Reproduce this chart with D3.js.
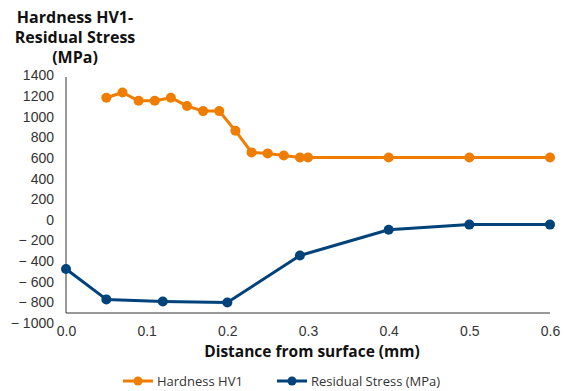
<!DOCTYPE html>
<html>
<head>
<meta charset="utf-8">
<script src="https://cdn.jsdelivr.net/npm/d3@7"></script>
<style>
  html, body { margin: 0; padding: 0; background: #fff; }
  svg { display: block; font-family: "Open Sans", "Noto Sans", sans-serif; }
</style>
</head>
<body>
<svg id="chart" width="564" height="391"></svg>
<script>
// Hardness profile (HV1) vs depth
const hardnessDepth = [0.05, 0.07, 0.09, 0.11, 0.13, 0.15, 0.17, 0.19, 0.21, 0.23, 0.25, 0.27, 0.29, 0.30, 0.40, 0.50, 0.60];
const hardnessValues = [1180, 1230, 1150, 1150, 1180, 1100, 1050, 1050, 860, 650, 640, 620, 600, 600, 600, 600, 600];

// Residual stress (MPa) vs depth
const stressDepth = [0.00, 0.05, 0.12, 0.20, 0.29, 0.40, 0.50, 0.60];
const stressValues = [-480, -775, -795, -805, -350, -100, -50, -50];

const xTicks = [0, 0.1, 0.2, 0.3, 0.4, 0.5, 0.6];
const yTicks = [1400, 1200, 1000, 800, 600, 400, 200, 0, -200, -400, -600, -800, -1000];

const seriesNames = ["Hardness HV1", "Residual Stress (MPa)"];
const colors = ["#ef7d00", "#00427a"];

const svg = d3.select("#chart");

const x = d3.scaleLinear().domain([0, 0.6]).range([66, 550]);
const y = d3.scaleLinear().domain([-1000, 1400]).range([322.6, 75]);
const axisY = 313; // horizontal axis baseline

// Y axis: vertical line plus tick labels
const yAxis = d3.axisLeft(y).tickValues(yTicks).tickSize(0).tickPadding(0)
  .tickFormat(d => d < 0 ? "\u2212 " + Math.abs(d) : String(d));
const gy = svg.append("g").attr("transform", "translate(54,0)").call(yAxis);
gy.select(".domain").remove();
gy.selectAll("text").attr("font-size", 14).attr("fill", "#333").attr("dy", "0.35em");

svg.append("line")
  .attr("x1", 66).attr("x2", 66).attr("y1", 77).attr("y2", axisY)
  .attr("stroke", "#333").attr("stroke-width", 1);

// X axis
const xAxis = d3.axisBottom(x).tickValues(xTicks).tickSize(0).tickPadding(13)
  .tickFormat(d3.format(".1f"));
const gx = svg.append("g").attr("transform", `translate(0,${axisY})`).call(xAxis);
gx.select(".domain").attr("stroke", "#333").attr("d", `M${x(0)},0H${x(0.6)}`);
gx.selectAll("text").attr("font-size", 14).attr("fill", "#333");

// Axis titles
const title = svg.append("text")
  .attr("text-anchor", "middle").attr("font-weight", "bold").attr("font-size", 16).attr("fill", "#111");
["Hardness HV1-", "Residual Stress", "(MPa)"].forEach((t, i) => {
  title.append("tspan").attr("x", 75).attr("y", 23 + i * 20).text(t);
});

svg.append("text")
  .attr("x", 312).attr("y", 357)
  .attr("text-anchor", "middle").attr("font-weight", "bold").attr("font-size", 15.5).attr("fill", "#111")
  .text("Distance from surface (mm)");

// Series
const series = [
  { name: seriesNames[0], color: colors[0], pts: hardnessDepth.map((d, i) => [d, hardnessValues[i]]) },
  { name: seriesNames[1], color: colors[1], pts: stressDepth.map((d, i) => [d, stressValues[i]]) }
];

const line = d3.line().x(d => x(d[0])).y(d => y(d[1]));

series.forEach(s => {
  svg.append("path").datum(s.pts)
    .attr("fill", "none").attr("stroke", s.color).attr("stroke-width", 3)
    .attr("stroke-linejoin", "round").attr("d", line);
  svg.append("g").selectAll("circle").data(s.pts).join("circle")
    .attr("cx", d => x(d[0])).attr("cy", d => y(d[1])).attr("r", 5)
    .attr("fill", s.color);
});

// Legend
const legendX = [123, 277];
series.forEach((s, i) => {
  const g = svg.append("g").attr("transform", `translate(${legendX[i]},381)`);
  g.append("line").attr("x1", 0).attr("x2", 30).attr("stroke", s.color).attr("stroke-width", 3);
  g.append("circle").attr("cx", 15).attr("r", 4.5).attr("fill", s.color);
  g.append("text").attr("x", 34).attr("dy", "0.35em").attr("font-size", 13).attr("fill", "#333").text(s.name);
});
</script>
</body>
</html>
